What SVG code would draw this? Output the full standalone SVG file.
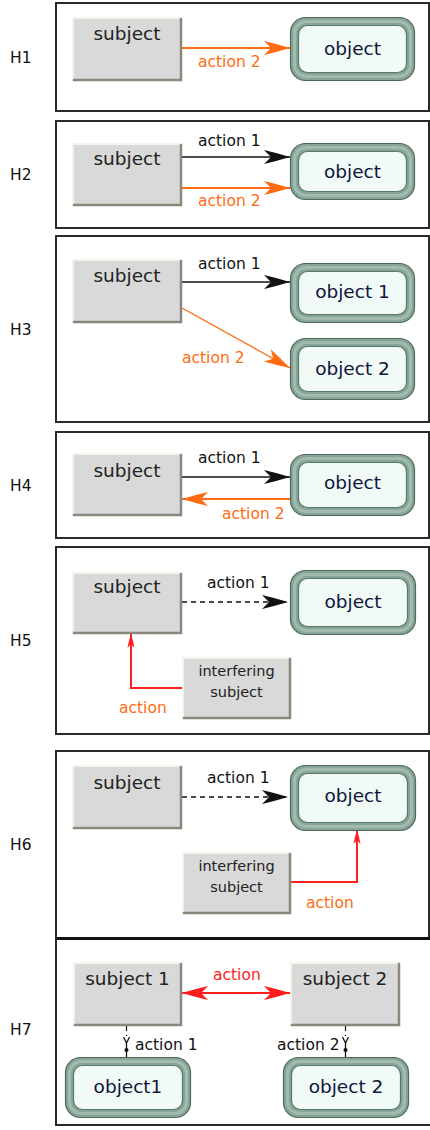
<svg xmlns="http://www.w3.org/2000/svg" width="430" height="1130" viewBox="0 0 430 1130">
  <style>
    .frame{fill:#fff;stroke:#2a2a2a;stroke-width:2}
    .hlab{font-family:"DejaVu Sans","Liberation Sans",sans-serif;font-size:15.5px;fill:#111}
    .sb{fill:#d9d9d9}
    .hi{fill:none;stroke:#f6f4ea;stroke-width:2}
    .sh{fill:none;stroke:#8b897c;stroke-width:2.5}
    .tube{fill:#87a596;stroke:#4d6a5d;stroke-width:1.2}
    .glint{fill:none;stroke:#a3bbae;stroke-width:3}
    .face{fill:#f1faf6;stroke:#56786a;stroke-width:1.2}
    .nt{font-family:"DejaVu Sans","Liberation Sans",sans-serif;font-size:18.5px;fill:#222;text-anchor:middle}
    .ot{font-family:"DejaVu Sans","Liberation Sans",sans-serif;font-size:18.5px;fill:#10163a;text-anchor:middle}
    .it{font-family:"DejaVu Sans","Liberation Sans",sans-serif;font-size:14.5px;fill:#222;text-anchor:middle}
    .lb{font-family:"DejaVu Sans","Liberation Sans",sans-serif;font-size:15.5px}
    .k{fill:#111}
    .o{fill:#ff6a12}
    .r{fill:#ff1c1c}
    .lk{fill:none;stroke:#111;stroke-width:1.6}
    .lo{fill:none;stroke:#ff6a12;stroke-width:2}
    .lr{fill:none;stroke:#ff2020;stroke-width:2}
    .dash{stroke-dasharray:5 4}
  </style>
  <defs>
    <marker id="head-k" viewBox="-28 -8 30 16" refX="0" refY="0" markerWidth="30" markerHeight="16" markerUnits="userSpaceOnUse" orient="auto">
      <path d="M0,0 L-14,-4 L-26,-7 L-19,0 L-26,7 L-14,4 Z" fill="#111"/>
    </marker>
    <marker id="head-o" viewBox="-28 -8 30 16" refX="0" refY="0" markerWidth="30" markerHeight="16" markerUnits="userSpaceOnUse" orient="auto">
      <path d="M0,0 L-14,-4 L-26,-7 L-19,0 L-26,7 L-14,4 Z" fill="#ff6a12"/>
    </marker>
    <marker id="head-r" viewBox="-28 -8 30 16" refX="0" refY="0" markerWidth="30" markerHeight="16" markerUnits="userSpaceOnUse" orient="auto-start-reverse">
      <path d="M0,0 L-14,-4 L-26,-7 L-19,0 L-26,7 L-14,4 Z" fill="#ff1c1c"/>
    </marker>
    <marker id="head-rs" viewBox="-16 -5 18 10" refX="0" refY="0" markerWidth="18" markerHeight="10" markerUnits="userSpaceOnUse" orient="auto">
      <path d="M0,0 L-7,-2 L-14,-3.5 L-10,0 L-14,3.5 L-7,2 Z" fill="#ff1c1c"/>
    </marker>
  </defs>

  <!-- panel frames -->
  <g id="frames">
    <rect class="frame" x="56" y="3" width="373" height="108"/>
    <rect class="frame" x="56" y="121" width="373" height="107"/>
    <rect class="frame" x="56" y="236" width="373" height="186"/>
    <rect class="frame" x="56" y="432" width="373" height="106"/>
    <rect class="frame" x="56" y="547" width="373" height="187"/>
    <rect class="frame" x="56" y="751" width="373" height="187"/>
    <rect class="frame" x="56" y="939" width="380" height="186"/>
    <line x1="56" y1="938.5" x2="430" y2="938.5" stroke="#111" stroke-width="3"/>
  </g>

  <g id="panel-labels">
    <text class="hlab" x="10" y="63">H1</text>
    <text class="hlab" x="10" y="180">H2</text>
    <text class="hlab" x="10" y="335">H3</text>
    <text class="hlab" x="10" y="491">H4</text>
    <text class="hlab" x="10" y="646">H5</text>
    <text class="hlab" x="10" y="850">H6</text>
    <text class="hlab" x="10" y="1035">H7</text>
  </g>

  <!-- connectors -->
  <g id="connectors">
    <path class="lo" d="M182,48 H290" marker-end="url(#head-o)"/>
    <text class="lb o" x="198" y="67">action 2</text>

    <path class="lk" d="M182,157 H290" marker-end="url(#head-k)"/>
    <text class="lb k" x="198" y="146">action 1</text>
    <path class="lo" d="M182,188 H290" marker-end="url(#head-o)"/>
    <text class="lb o" x="198" y="206">action 2</text>

    <path class="lk" d="M182,282 H290" marker-end="url(#head-k)"/>
    <text class="lb k" x="198" y="269">action 1</text>
    <path class="lo" style="stroke-width:1.3" d="M182,308 L290,368" marker-end="url(#head-o)"/>
    <text class="lb o" x="182" y="363">action 2</text>

    <path class="lk" d="M182,477 H290" marker-end="url(#head-k)"/>
    <text class="lb k" x="198" y="463">action 1</text>
    <path class="lo" d="M290,499 H182" marker-end="url(#head-o)"/>
    <text class="lb o" x="222" y="519">action 2</text>

    <path class="lk dash" d="M182,602 H288" marker-end="url(#head-k)"/>
    <text class="lb k" x="207" y="588">action 1</text>
    <path class="lr" d="M182,688 H131 V634" marker-end="url(#head-rs)"/>
    <text class="lb o" x="119" y="713">action</text>

    <path class="lk dash" d="M182,797 H288" marker-end="url(#head-k)"/>
    <text class="lb k" x="207" y="783">action 1</text>
    <path class="lr" d="M291,882 H357 V830" marker-end="url(#head-rs)"/>
    <text class="lb o" x="306" y="908">action</text>

    <path class="lr" d="M182,993 H290" marker-start="url(#head-r)" marker-end="url(#head-r)"/>
    <text class="lb r" x="213" y="980">action</text>

    <g id="h7-action1">
      <path class="lk dash" style="stroke-width:1.2" d="M126.5,1026 V1036"/>
      <path class="lk" style="stroke-width:1.3" d="M123.5,1037 L126.5,1043 L129.5,1037 M126.5,1043 V1057"/>
      <circle cx="126.5" cy="1050" r="2" fill="#111"/>
    </g>
    <text class="lb k" x="135" y="1050">action 1</text>
    <g id="h7-action2">
      <path class="lk dash" style="stroke-width:1.2" d="M345.5,1026 V1036"/>
      <path class="lk" style="stroke-width:1.3" d="M342.5,1037 L345.5,1043 L348.5,1037 M345.5,1043 V1057"/>
      <circle cx="345.5" cy="1050" r="2" fill="#111"/>
    </g>
    <text class="lb k" x="277" y="1050">action 2</text>
  </g>

  <!-- H1 -->
  <g id="h1-subject">
    <rect class="sb" x="72" y="17" width="110" height="64"/>
    <path class="hi" d="M73,80 V18 H181"/>
    <path class="sh" d="M73,80 H181 V18"/>
    <text class="nt" x="127" y="40">subject</text>
  </g>
  <g id="h1-object">
    <rect class="tube" x="290.5" y="17.5" width="124" height="63" rx="15"/>
    <rect class="glint" x="294.5" y="21.5" width="116" height="55" rx="12"/>
    <rect class="face" x="298.5" y="25.5" width="108" height="47" rx="9"/>
    <text class="ot" x="352.5" y="55">object</text>
  </g>

  <!-- H2 -->
  <g id="h2-subject">
    <rect class="sb" x="72" y="143" width="110" height="63"/>
    <path class="hi" d="M73,205 V144 H181"/>
    <path class="sh" d="M73,205 H181 V144"/>
    <text class="nt" x="127" y="165">subject</text>
  </g>
  <g id="h2-object">
    <rect class="tube" x="290.5" y="143.5" width="124" height="56" rx="15"/>
    <rect class="glint" x="294.5" y="147.5" width="116" height="48" rx="12"/>
    <rect class="face" x="298.5" y="151.5" width="108" height="40" rx="9"/>
    <text class="ot" x="352.5" y="178">object</text>
  </g>

  <!-- H3 -->
  <g id="h3-subject">
    <rect class="sb" x="72" y="259" width="110" height="64"/>
    <path class="hi" d="M73,322 V260 H181"/>
    <path class="sh" d="M73,322 H181 V260"/>
    <text class="nt" x="127" y="282">subject</text>
  </g>
  <g id="h3-object-1">
    <rect class="tube" x="290.5" y="263.5" width="124" height="59" rx="15"/>
    <rect class="glint" x="294.5" y="267.5" width="116" height="51" rx="12"/>
    <rect class="face" x="298.5" y="271.5" width="108" height="43" rx="9"/>
    <text class="ot" x="352.5" y="298">object 1</text>
  </g>
  <g id="h3-object-2">
    <rect class="tube" x="290.5" y="338.5" width="124" height="61" rx="15"/>
    <rect class="glint" x="294.5" y="342.5" width="116" height="53" rx="12"/>
    <rect class="face" x="298.5" y="346.5" width="108" height="45" rx="9"/>
    <text class="ot" x="352.5" y="375">object 2</text>
  </g>

  <!-- H4 -->
  <g id="h4-subject">
    <rect class="sb" x="72" y="453" width="110" height="63"/>
    <path class="hi" d="M73,515 V454 H181"/>
    <path class="sh" d="M73,515 H181 V454"/>
    <text class="nt" x="127" y="477">subject</text>
  </g>
  <g id="h4-object">
    <rect class="tube" x="290.5" y="454.5" width="124" height="61" rx="15"/>
    <rect class="glint" x="294.5" y="458.5" width="116" height="53" rx="12"/>
    <rect class="face" x="298.5" y="462.5" width="108" height="45" rx="9"/>
    <text class="ot" x="352.5" y="489">object</text>
  </g>

  <!-- H5 -->
  <g id="h5-subject">
    <rect class="sb" x="72" y="572" width="110" height="62"/>
    <path class="hi" d="M73,633 V573 H181"/>
    <path class="sh" d="M73,633 H181 V573"/>
    <text class="nt" x="127" y="593">subject</text>
  </g>
  <g id="h5-object">
    <rect class="tube" x="290.5" y="570.5" width="125" height="64" rx="15"/>
    <rect class="glint" x="294.5" y="574.5" width="117" height="56" rx="12"/>
    <rect class="face" x="298.5" y="578.5" width="109" height="48" rx="9"/>
    <text class="ot" x="353" y="608">object</text>
  </g>
  <g id="h5-interfering-subject">
    <rect class="sb" x="182" y="657" width="109" height="62"/>
    <path class="hi" d="M183,718 V658 H290"/>
    <path class="sh" d="M183,718 H290 V658"/>
    <text class="it" x="236.5" y="676">interfering</text>
    <text class="it" x="236.5" y="697">subject</text>
  </g>

  <!-- H6 -->
  <g id="h6-subject">
    <rect class="sb" x="72" y="765" width="110" height="64"/>
    <path class="hi" d="M73,828 V766 H181"/>
    <path class="sh" d="M73,828 H181 V766"/>
    <text class="nt" x="127" y="789">subject</text>
  </g>
  <g id="h6-object">
    <rect class="tube" x="290.5" y="765.5" width="125" height="65" rx="15"/>
    <rect class="glint" x="294.5" y="769.5" width="117" height="57" rx="12"/>
    <rect class="face" x="298.5" y="773.5" width="109" height="49" rx="9"/>
    <text class="ot" x="353" y="802">object</text>
  </g>
  <g id="h6-interfering-subject">
    <rect class="sb" x="182" y="852" width="109" height="62"/>
    <path class="hi" d="M183,913 V853 H290"/>
    <path class="sh" d="M183,913 H290 V853"/>
    <text class="it" x="236.5" y="871">interfering</text>
    <text class="it" x="236.5" y="892">subject</text>
  </g>

  <!-- H7 -->
  <g id="h7-subject-1">
    <rect class="sb" x="73" y="962" width="109" height="64"/>
    <path class="hi" d="M74,1025 V963 H181"/>
    <path class="sh" d="M74,1025 H181 V963"/>
    <text class="nt" x="127.5" y="985">subject 1</text>
  </g>
  <g id="h7-subject-2">
    <rect class="sb" x="290" y="962" width="110" height="64"/>
    <path class="hi" d="M291,1025 V963 H399"/>
    <path class="sh" d="M291,1025 H399 V963"/>
    <text class="nt" x="345" y="985">subject 2</text>
  </g>
  <g id="h7-object-1">
    <rect class="tube" x="65.5" y="1057.5" width="125" height="60" rx="15"/>
    <rect class="glint" x="69.5" y="1061.5" width="117" height="52" rx="12"/>
    <rect class="face" x="73.5" y="1065.5" width="109" height="44" rx="9"/>
    <text class="ot" x="128" y="1093">object1</text>
  </g>
  <g id="h7-object-2">
    <rect class="tube" x="283.5" y="1057.5" width="125" height="60" rx="15"/>
    <rect class="glint" x="287.5" y="1061.5" width="117" height="52" rx="12"/>
    <rect class="face" x="291.5" y="1065.5" width="109" height="44" rx="9"/>
    <text class="ot" x="346" y="1093">object 2</text>
  </g>
</svg>
